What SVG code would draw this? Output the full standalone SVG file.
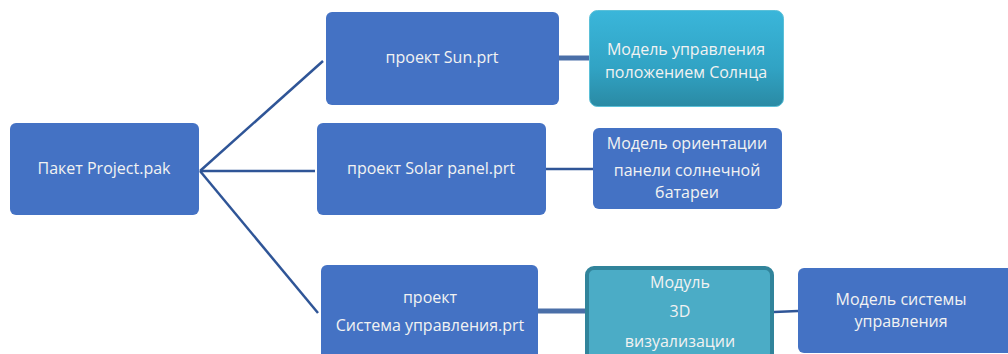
<svg xmlns="http://www.w3.org/2000/svg" width="1008" height="354" viewBox="0 0 1008 354">
<defs>
<linearGradient id="tealGrad" x1="0" y1="0" x2="0" y2="1">
<stop offset="0" stop-color="#3AB6DA"/>
<stop offset="0.6" stop-color="#31A3C4"/>
<stop offset="1" stop-color="#2A8AA4"/>
</linearGradient>
</defs>
<style>
.box{fill:#4472C4;}
.t{font-family:"Open Sans","Liberation Sans",Arial,sans-serif;font-size:16px;fill:#F2F2F2;text-anchor:middle;}
.c{fill:none;stroke:#2F5597;stroke-width:2.5;}
.ct{fill:none;stroke:#4A6FA8;stroke-width:5;}
</style>
<g id="connectors">
<line class="c" x1="200" y1="171" x2="323" y2="61"/>
<line class="c" x1="200" y1="171" x2="315" y2="171"/>
<line class="c" x1="200" y1="171" x2="318" y2="313"/>
<line class="ct" x1="559" y1="58" x2="590" y2="58"/>
<line class="c" x1="546" y1="169" x2="594" y2="169"/>
<line class="ct" x1="538" y1="311" x2="586" y2="311"/>
<line class="c" x1="774" y1="312" x2="798" y2="311"/>
</g>
<g id="root">
<rect class="box" x="10" y="123" width="189" height="92" rx="6"/>
<text class="t" x="104" y="174">Пакет Project.pak</text>
</g>
<g id="sun">
<rect class="box" x="326" y="12" width="233" height="93" rx="6"/>
<text class="t" x="442" y="63">проект Sun.prt</text>
</g>
<g id="solar">
<rect class="box" x="317" y="123" width="229" height="92" rx="6"/>
<text class="t" x="431" y="174">проект Solar panel.prt</text>
</g>
<g id="control">
<rect class="box" x="321" y="265" width="217" height="95" rx="6"/>
<text class="t" x="430" y="303">проект</text>
<text class="t" x="430" y="331">Система управления.prt</text>
</g>
<g id="sunModel">
<rect x="589.5" y="10.5" width="194" height="96" rx="8" fill="url(#tealGrad)" stroke="#5BC0D8" stroke-width="1"/>
<text class="t" x="686" y="55">Модель управления</text>
<text class="t" x="686" y="78">положением Солнца</text>
</g>
<g id="orientModel">
<rect class="box" x="593" y="128" width="189" height="81" rx="6"/>
<text class="t" x="687" y="149">Модель ориентации</text>
<text class="t" x="687" y="176">панели солнечной</text>
<text class="t" x="687" y="198">батареи</text>
</g>
<g id="viz">
<rect x="587" y="268" width="185" height="92" rx="7" fill="#4BACC6" stroke="#31849B" stroke-width="4"/>
<text class="t" x="680" y="288">Модуль</text>
<text class="t" x="680" y="317">3D</text>
<text class="t" x="680" y="347">визуализации</text>
</g>
<g id="ctrlModel">
<rect class="box" x="798" y="268" width="220" height="85" rx="6"/>
<text class="t" x="901" y="305">Модель системы</text>
<text class="t" x="901" y="327">управления</text>
</g>
</svg>
